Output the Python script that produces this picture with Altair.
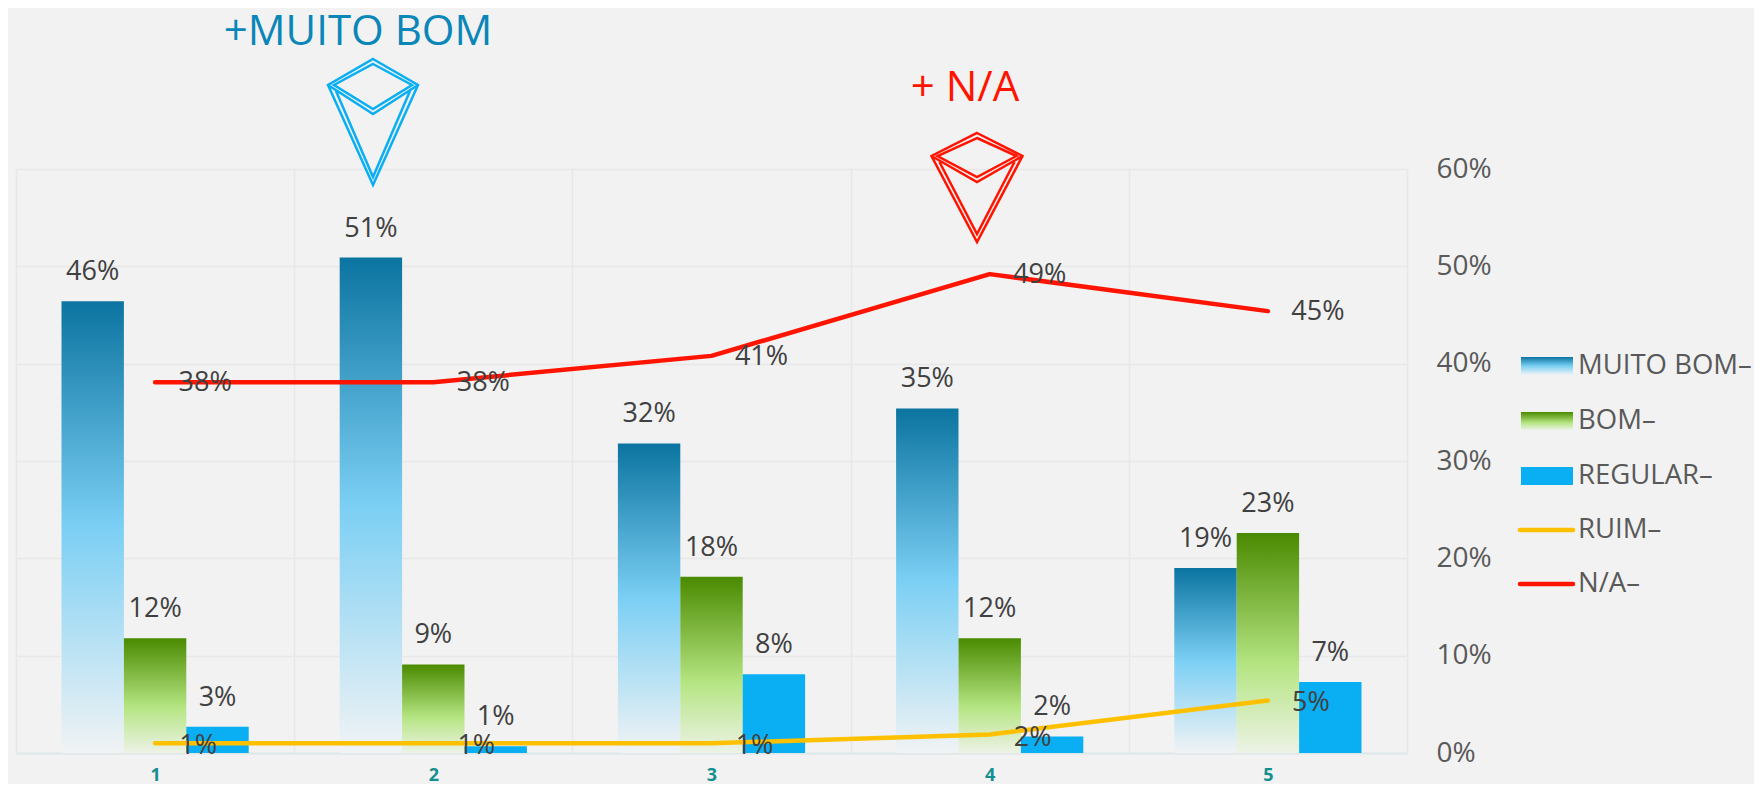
import altair as alt
import pandas as pd

categories = ["1", "2", "3", "4", "5"]
series_bars = ["MUITO BOM", "BOM", "REGULAR"]
muito_bom = [0.464, 0.509, 0.318, 0.354, 0.190]
bom = [0.118, 0.091, 0.181, 0.118, 0.226]
regular = [0.027, 0.007, 0.081, 0.017, 0.073]
ruim = [0.010, 0.010, 0.010, 0.019, 0.054]
na = [0.381, 0.381, 0.408, 0.492, 0.454]
legend_names = ["MUITO BOM–", "BOM–", "REGULAR–", "RUIM–", "N/A–"]
callouts = ["+MUITO BOM", "+ N/A"]

FONT = "Open Sans"
BG = "#f2f2f2"
PW, PH = 1391, 584
OX, OY = 16, 169
TOTAL_W, TOTAL_H = 1746, 776


def grad(stops):
    return alt.LinearGradient(
        gradient="linear", x1=0, x2=0, y1=0, y2=1,
        stops=[alt.GradientStop(offset=o, color=c) for o, c in stops],
    )


G_BLUE = grad([(0, "#0b74a0"), (0.5, "#7bcff4"), (1, "#f1f3f4")])
G_GREEN = grad([(0, "#4a8a00"), (0.6, "#b5e582"), (1, "#edf2e6")])
CYAN = "#0aaef2"
YEL = "#ffc000"
RED = "#ff1400"

x_enc = alt.X(
    "cat:N",
    sort=categories,
    scale=alt.Scale(domain=categories, paddingInner=0, paddingOuter=0),
    axis=alt.Axis(
        title=None, labelAngle=0, ticks=False, domain=True, domainColor="#dde8e8",
        domainWidth=2, grid=True, gridColor="#e8e8e8", gridWidth=1.5, tickBand="extent",
        labelFont=FONT, labelFontSize=18, labelFontWeight="bold", labelColor="#148f8f",
        labelPadding=13,
    ),
)
y_enc = alt.Y(
    "v:Q",
    scale=alt.Scale(domain=[0, 0.6], nice=False),
    axis=alt.Axis(
        title=None, orient="right", format=".0%", tickCount=7, ticks=False, domain=False,
        grid=True, gridColor="#e8e8e8", gridWidth=1.5,
        labelFont=FONT, labelFontSize=28, labelColor="#595959", labelPadding=29,
    ),
)
off_enc = alt.XOffset("s:N", sort=series_bars,
                      scale=alt.Scale(domain=series_bars, paddingInner=0, paddingOuter=0.729))


def frame(values, name):
    return pd.DataFrame({"cat": categories, "v": values, "s": name})


layers = []
for name, vals, col in [("MUITO BOM", muito_bom, G_BLUE), ("BOM", bom, G_GREEN), ("REGULAR", regular, CYAN)]:
    layers.append(alt.Chart(frame(vals, name)).mark_bar(color=col).encode(x=x_enc, y=y_enc, xOffset=off_enc))

for name, vals, col in [("RUIM", ruim, YEL), ("N/A", na, RED)]:
    layers.append(alt.Chart(frame(vals, name)).mark_line(color=col, strokeWidth=4.5, strokeCap="round", strokeJoin="round").encode(x=x_enc, y=y_enc))

for name, vals in [("MUITO BOM", muito_bom), ("BOM", bom), ("REGULAR", regular)]:
    layers.append(
        alt.Chart(frame(vals, name)).mark_text(font=FONT, fontSize=27, color="#404040", dy=-29, baseline="middle")
        .encode(x=x_enc, y=y_enc, xOffset=off_enc, text=alt.Text("v:Q", format=".0%"))
    )
for name, vals, dx, dy in [("RUIM", ruim, 43, 3), ("N/A", na, 50, 1)]:
    layers.append(
        alt.Chart(frame(vals, name)).mark_text(font=FONT, fontSize=27, color="#404040", dx=dx, dy=dy, baseline="middle")
        .encode(x=x_enc, y=y_enc, text=alt.Text("v:Q", format=".0%"))
    )


def kite(hw, top, vee, join):
    """Double-outlined kite; origin is the tip, 1 unit = 50 px."""
    u = lambda v: f"{v / 50:.3f}"
    p = lambda a, b: f"{u(a)},{u(b)}"
    outer = f"M{p(0,-top)}L{p(hw,-join)}L{p(0,0)}L{p(-hw,-join)}Z"
    diamond = f"M{p(0,-top+5)}L{p(hw-6,-join)}L{p(0,-vee-5)}L{p(-hw+6,-join)}Z"
    vee_line = f"M{p(-hw,-join)}L{p(0,-vee)}L{p(hw,-join)}"
    low = f"M{p(-hw+8,-join+6)}L{p(0,-8)}L{p(hw-8,-join+6)}"
    return outer + diamond + vee_line + low


def px_x(px):
    return px - OX


def px_y(py):
    return py - OY


point_data = alt.Data(values=[{"k": 1}])
layers.append(
    alt.Chart(point_data).mark_point(shape=kite(45, 126, 71, 100), size=10000, filled=False, stroke=CYAN, strokeWidth=2.5, opacity=1)
    .encode(x=alt.value(px_x(373)), y=alt.value(px_y(185)))
)
layers.append(
    alt.Chart(point_data).mark_point(shape=kite(45.5, 109, 60, 86), size=10000, filled=False, stroke=RED, strokeWidth=2.5, opacity=1)
    .encode(x=alt.value(px_x(977)), y=alt.value(px_y(242)))
)
layers.append(
    alt.Chart(point_data).mark_text(text=callouts[0], font=FONT, fontSize=42, color="#0a86b8", baseline="middle", align="center")
    .encode(x=alt.value(px_x(358)), y=alt.value(px_y(32)))
)
layers.append(
    alt.Chart(point_data).mark_text(text=callouts[1], font=FONT, fontSize=42, color=RED, baseline="middle", align="center")
    .encode(x=alt.value(px_x(965)), y=alt.value(px_y(88)))
)

# hand-built legend, because native symbols cannot carry per-item gradients
legend_y = [366, 421, 476, 530, 584]
swatches = [G_BLUE, G_GREEN, CYAN]
for i, yc in enumerate(legend_y):
    if i < 3:
        layers.append(
            alt.Chart(point_data).mark_rect(color=swatches[i]).encode(
                x=alt.value(px_x(1521)), x2=alt.value(px_x(1573)),
                y=alt.value(px_y(yc - 9)), y2=alt.value(px_y(yc + 9)))
        )
    else:
        layers.append(
            alt.Chart(point_data).mark_rule(color=YEL if i == 3 else RED, strokeWidth=4.5, strokeCap="round").encode(
                x=alt.value(px_x(1520)), x2=alt.value(px_x(1573)),
                y=alt.value(px_y(yc)))
        )
    layers.append(
        alt.Chart(point_data).mark_text(text=legend_names[i], font=FONT, fontSize=27.5, color="#595959", align="left", baseline="middle")
        .encode(x=alt.value(px_x(1578)), y=alt.value(px_y(yc)))
    )

chart = (
    alt.layer(*layers)
    .resolve_scale(x="shared", y="shared")
    .properties(
        width=PW, height=PH, background=BG,
        autosize=alt.AutoSizeParams(type="none"),
        padding={"left": OX - 8, "top": OY - 8, "right": TOTAL_W - (OX - 8) - PW, "bottom": TOTAL_H - (OY - 8) - PH},
    )
    .configure_view(stroke=None)
)

chart.save("out.html", embed_options={"renderer": "svg", "actions": False})
